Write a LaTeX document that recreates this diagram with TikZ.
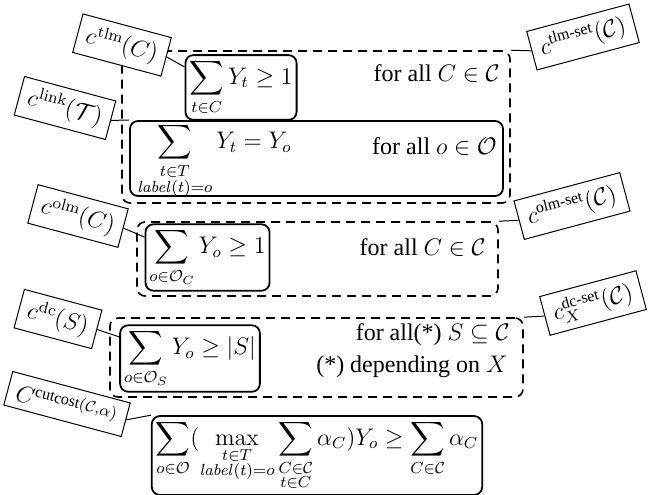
\documentclass[tikz,border=0pt]{standalone}
\usepackage{amsmath}
\usepackage[no-math]{fontspec}
\setmainfont{Liberation Serif}
\newfontfamily\condfont{Liberation Serif}
\usetikzlibrary{positioning}
\tikzset{
  font=\rmfamily\fontsize{12}{14}\selectfont,
  eqbox/.style={
    draw,
    line width=0.9pt,
    rounded corners=4pt,
    inner xsep=2pt,
    inner ysep=2pt
  },
  setbox/.style={
    draw,
    line width=0.8pt,
    dash pattern=on 4.5pt off 3pt,
    rounded corners=4pt
  },
  tagbox/.style={draw,fill=white,line width=0.5pt,inner xsep=4.5pt,inner ysep=3.5pt},
  tagdown/.style={tagbox,rotate=-15},
  tagup/.style={tagbox,rotate=15},
  cond/.style={anchor=east,inner sep=0pt,font=\condfont\fontsize{12}{14}\selectfont},
  leader/.style={draw,line width=0.5pt}
}

\begin{document}
\begin{tikzpicture}[x=0.5pt,y=-0.5pt]
  \useasboundingbox (0,0) rectangle (662,494);

  % dashed groups
  \node[setbox,minimum width=194pt,minimum height=76pt] at (316,127) (tlmset) {};
  \node[setbox,minimum width=180.5pt,minimum height=37pt] at (317.5,259) (olmset) {};
  \node[setbox,minimum width=206.5pt,minimum height=39.5pt] at (316.5,357.5) (dcset) {};

  % constraints
  \node[eqbox] at (241,87.5) (tlm) {$\displaystyle\sum_{t\in C} Y_t \ge 1$};

  \node[eqbox,minimum width=186.5pt,minimum height=37.5pt] at (316.5,158.5) (link) {};
  \node[anchor=west,inner sep=0pt] at (137,161) (linkeq) {
    $\displaystyle\sum_{\substack{t\in T\\ \mathit{label}(t)=o}} Y_t = Y_o$
  };

  \node[eqbox] at (207.5,257.5) (olm) {$\displaystyle\sum_{o\in\mathcal{O}_C} Y_o \ge 1$};
  \node[eqbox] at (190,358.5) (dc) {$\displaystyle\sum_{o\in\mathcal{O}_S} Y_o \ge |S|$};

  \node[eqbox] at (317,455.5) (cut) {
    $\displaystyle\sum_{o\in\mathcal{O}} (\max_{\substack{t\in T\\ \mathit{label}(t)=o}}
    \sum_{\substack{C\in\mathcal{C}\\ t\in C}} \alpha_C) Y_o \ge \sum_{C\in\mathcal{C}} \alpha_C$
  };

  % quantifiers
  \node[cond] at (500,74) (tlmfor) {for all $C\in\mathcal{C}$};
  \node[cond] at (497,147) (linkfor) {for all $o\in\mathcal{O}$};
  \node[cond] at (486,248) (olmfor) {for all $C\in\mathcal{C}$};
  \node[cond] at (510,335) (dcfor) {for all(*) $S\subseteq\mathcal{C}$};
  \node[cond] at (508,367) (dcnote) {(*) depending on $X$};

  % tags
  \node[tagdown] at (122,45) (ctlm) {$c^{\mathrm{tlm}}(C)$};
  \node[tagdown] at (65,108) (clink) {$c^{\mathrm{link}}(\mathcal{T})$};
  \node[tagdown] at (78,216) (colm) {$c^{\mathrm{olm}}(C)$};
  \node[tagdown] at (58,319) (cdc) {$c^{\mathrm{dc}}(S)$};
  \node[tagdown] at (67,404) (ccut) {$C^{\text{cutcost}(\mathcal{C},\alpha)}$};
  \node[tagup] at (583,37) (ctlmset) {$c^{\text{tlm-set}}(\mathcal{C})$};
  \node[tagup] at (572,206) (colmset) {$c^{\text{olm-set}}(\mathcal{C})$};
  \node[tagup] at (593,303) (cdcset) {$c_X^{\text{dc-set}}(\mathcal{C})$};

  % leaders
  \draw[leader] (ctlm.east) -- (tlm.160);
  \draw[leader] (clink.east) -- (link.north west);
  \draw[leader] (colm.east) -- (olm.162);
  \draw[leader] (cdc.east) -- (dc.163);
  \draw[leader] (ccut.east) -- (cut.north west);
  \draw[leader] (ctlmset.west) -- (tlmset.north east);
  \draw[leader] (colmset.west) -- (olmset.north east);
  \draw[leader] (cdcset.west) -- (dcset.north east);

\end{tikzpicture}
\end{document}
